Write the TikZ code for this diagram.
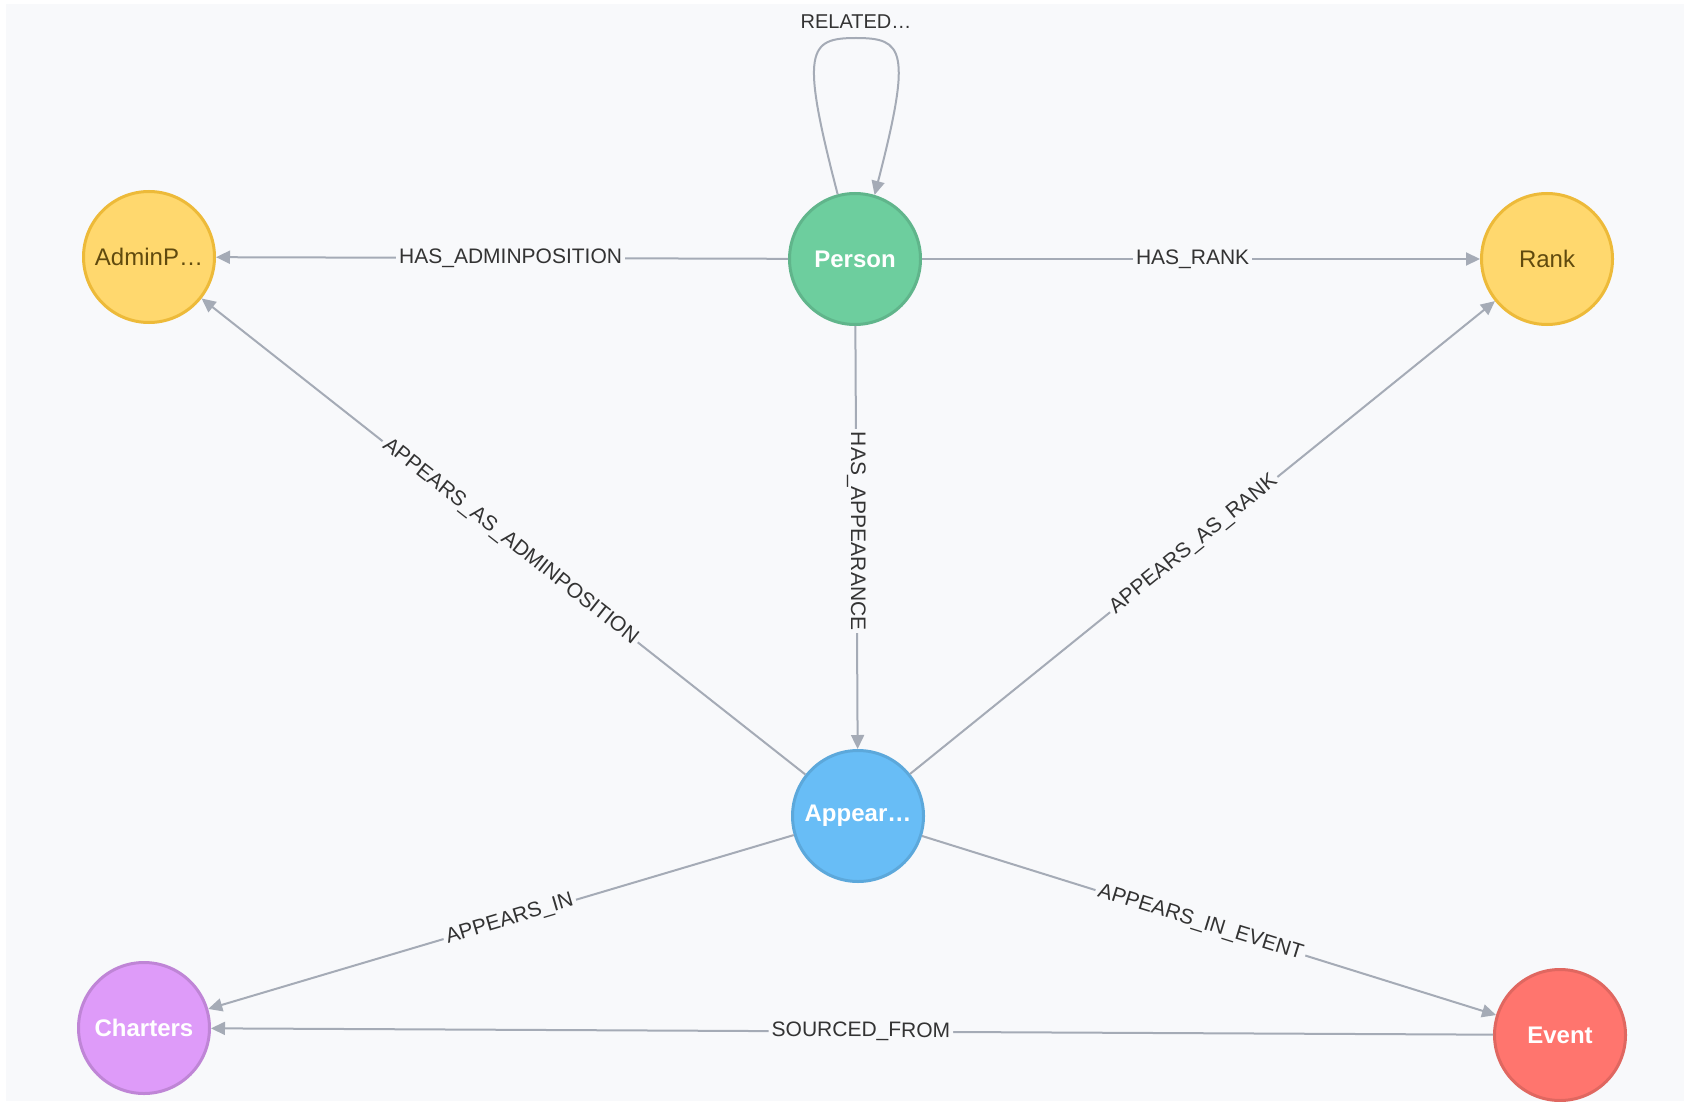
\documentclass[tikz,border=0pt]{standalone}
\usepackage{fontspec}
\setmainfont{Liberation Sans}
\usetikzlibrary{arrows.meta}
\definecolor{bg}{HTML}{F8F9FB}
\definecolor{edgec}{HTML}{A5ABB6}
\definecolor{lbl}{HTML}{333333}
\definecolor{yelfill}{HTML}{FFD86E}
\definecolor{yelborder}{HTML}{EDBA39}
\definecolor{yeltext}{HTML}{604A0E}
\definecolor{grnfill}{HTML}{6DCE9E}
\definecolor{grnborder}{HTML}{60B58B}
\definecolor{blufill}{HTML}{68BDF6}
\definecolor{bluborder}{HTML}{5CA8DB}
\definecolor{redfill}{HTML}{FF756E}
\definecolor{redborder}{HTML}{E06760}
\definecolor{purfill}{HTML}{DE9BF9}
\definecolor{purborder}{HTML}{BF85D6}
\begin{document}
\begin{tikzpicture}[x=1pt,y=-1pt,
  gnode/.style={circle, minimum size=131pt, inner sep=0pt, line width=3pt,
    font=\fontsize{24}{24}\selectfont\bfseries, text=white},
  yelnode/.style={gnode, fill=yelfill, draw=yelborder, text=yeltext,
    font=\fontsize{24}{24}\selectfont},
  rel/.style={draw=edgec, line width=2pt, -{Triangle[length=14pt,width=13pt]}},
  rlabel/.style={fill=bg, text=lbl, font=\fontsize{21}{21}\selectfont, inner sep=3pt, pos=0.485}
]
\useasboundingbox (0,0) rectangle (1688,1102);
\fill[white] (0,0) rectangle (1688,1102);
\fill[bg] (6,4) rectangle (1684,1101);

\node[gnode, fill=grnfill, draw=grnborder] (person) at (855,259) {Person};
\node[yelnode] (admin) at (149,257) {AdminP…};
\node[yelnode] (rank) at (1547,259) {Rank};
\node[gnode, fill=blufill, draw=bluborder] (appear) at (858,816) {Appear…};
\node[gnode, fill=purfill, draw=purborder] (charters) at (144,1028) {Charters};
\node[gnode, fill=redfill, draw=redborder] (event) at (1560,1035) {Event};

\draw[rel] (person) -- node[rlabel] {HAS\_ADMINPOSITION} (admin);
\draw[rel] (person) -- node[rlabel] {HAS\_RANK} (rank);
\draw[rel] (person) -- node[rlabel, rotate=-90] {HAS\_APPEARANCE} (appear);
\draw[rel] (appear) -- node[rlabel, sloped, pos=0.489] {APPEARS\_AS\_ADMINPOSITION} (admin);
\draw[rel] (appear) -- node[rlabel, sloped] {APPEARS\_AS\_RANK} (rank);
\draw[rel] (appear) -- node[rlabel, sloped] {APPEARS\_IN} (charters);
\draw[rel] (appear) -- node[rlabel, sloped] {APPEARS\_IN\_EVENT} (event);
\draw[rel] (event) -- node[rlabel, sloped, pos=0.493] {SOURCED\_FROM} (charters);

\draw[rel] (person.105) .. controls (800,50) and (808,38) .. (856,38)
  .. controls (904,38) and (912,50) .. (person.73);
\node[text=lbl, font=\fontsize{20}{20}\selectfont, inner sep=0pt] (rellbl) at (856,22) {RELATED…};
\end{tikzpicture}
\end{document}
